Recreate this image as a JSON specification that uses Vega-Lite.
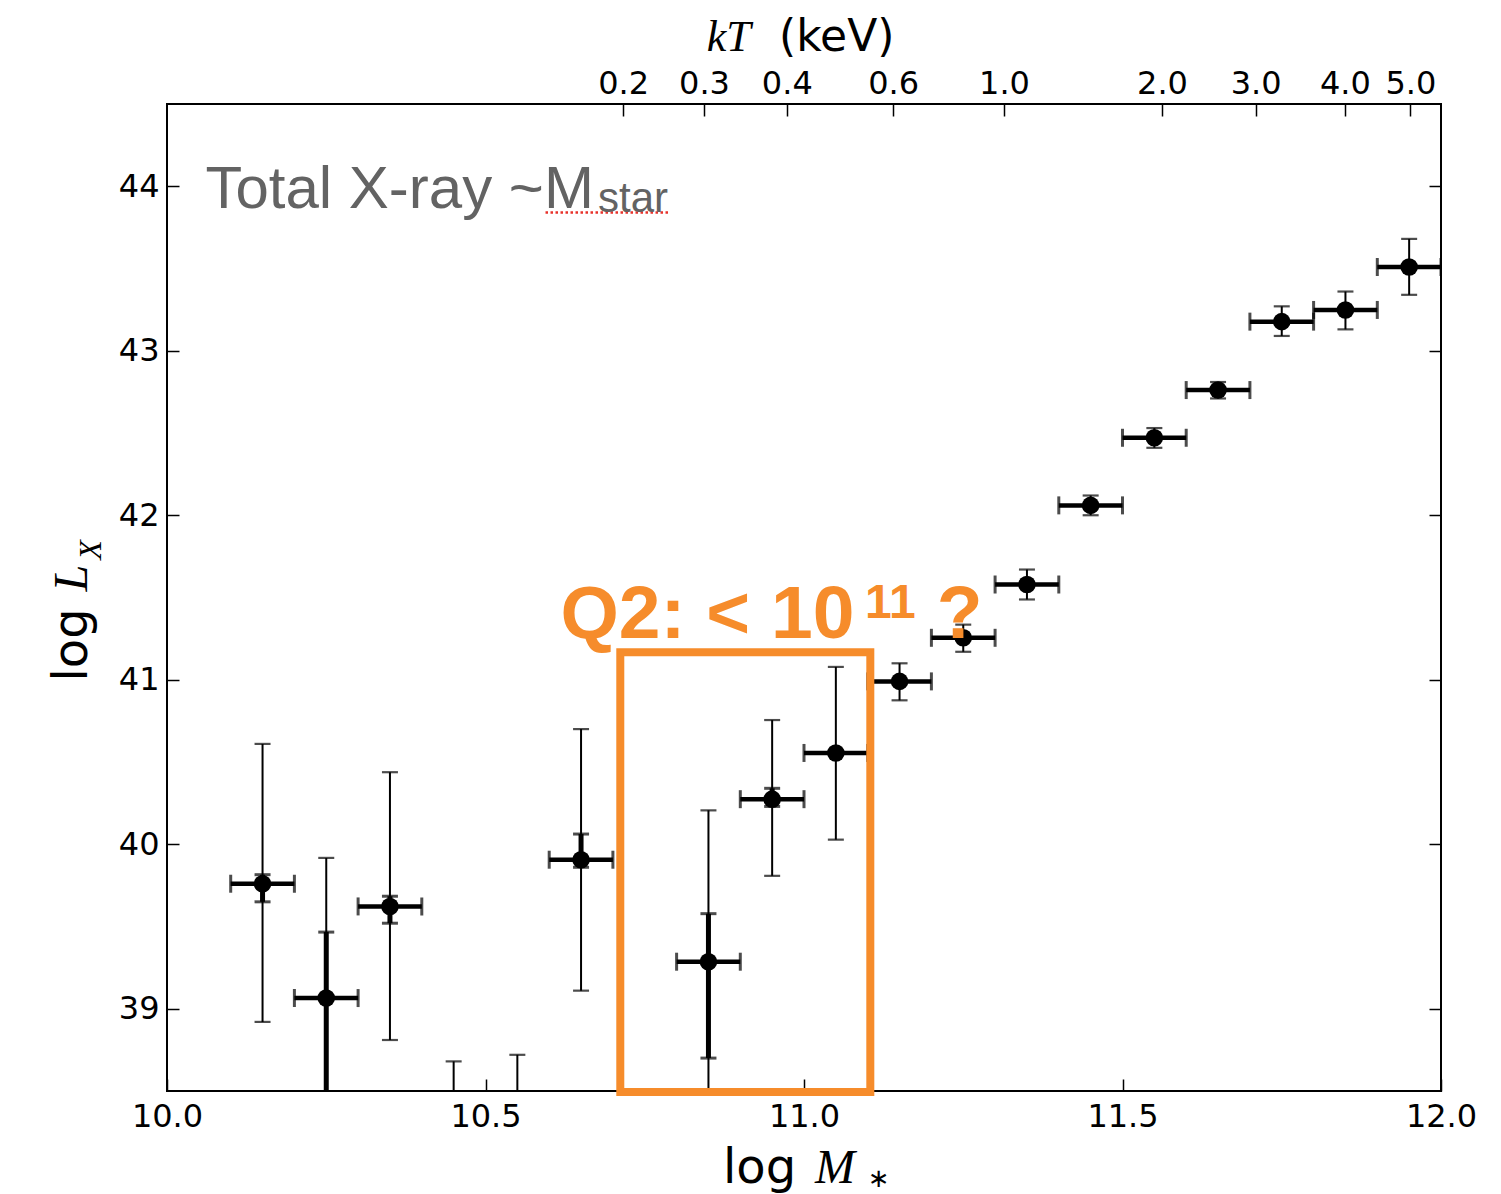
{
  "$schema": "https://vega.github.io/schema/vega-lite/v6.json",
  "autosize": "none",
  "width": 1274,
  "height": 987,
  "padding": {"left": 167, "top": 104, "right": 60, "bottom": 103},
  "background": "white",
  "config": {
    "view": {"stroke": "black", "strokeWidth": 2},
    "axis": {
      "grid": false,
      "domain": false,
      "labelFont": "DejaVu Sans",
      "labelFontSize": 32,
      "labelColor": "black",
      "tickColor": "black",
      "tickWidth": 1.5,
      "tickSize": -12,
      "labelFlush": false,
      "labelOverlap": false,
      "title": null
    }
  },
  "datasets": {
    "pts": [
      {"m": 10.15, "lx": 39.76, "lo": 38.92, "hi": 40.61, "xlo": 10.10, "xhi": 10.20},
      {"m": 10.25, "lx": 39.065, "lo": 37.5, "hi": 39.917, "xlo": 10.20, "xhi": 10.30},
      {"m": 10.35, "lx": 39.622, "lo": 38.81, "hi": 40.438, "xlo": 10.30, "xhi": 10.40},
      {"m": 10.45, "lx": 38.0, "lo": 37.3, "hi": 38.68, "xlo": 10.40, "xhi": 10.50},
      {"m": 10.55, "lx": 38.1, "lo": 37.4, "hi": 38.72, "xlo": 10.50, "xhi": 10.60},
      {"m": 10.65, "lx": 39.906, "lo": 39.11, "hi": 40.70, "xlo": 10.60, "xhi": 10.70},
      {"m": 10.85, "lx": 39.286, "lo": 37.8, "hi": 40.206, "xlo": 10.80, "xhi": 10.90},
      {"m": 10.95, "lx": 40.274, "lo": 39.808, "hi": 40.755, "xlo": 10.90, "xhi": 11.00},
      {"m": 11.05, "lx": 40.555, "lo": 40.028, "hi": 41.078, "xlo": 11.00, "xhi": 11.10},
      {"m": 11.15, "lx": 40.99, "lo": 40.875, "hi": 41.10, "xlo": 11.10, "xhi": 11.20},
      {"m": 11.25, "lx": 41.255, "lo": 41.17, "hi": 41.335, "xlo": 11.20, "xhi": 11.30},
      {"m": 11.35, "lx": 41.579, "lo": 41.488, "hi": 41.67, "xlo": 11.30, "xhi": 11.40},
      {"m": 11.45, "lx": 42.06, "lo": 42.0, "hi": 42.12, "xlo": 11.40, "xhi": 11.50},
      {"m": 11.55, "lx": 42.471, "lo": 42.41, "hi": 42.53, "xlo": 11.50, "xhi": 11.60},
      {"m": 11.65, "lx": 42.761, "lo": 42.71, "hi": 42.81, "xlo": 11.60, "xhi": 11.70},
      {"m": 11.75, "lx": 43.177, "lo": 43.09, "hi": 43.27, "xlo": 11.70, "xhi": 11.80},
      {"m": 11.85, "lx": 43.248, "lo": 43.13, "hi": 43.36, "xlo": 11.80, "xhi": 11.90},
      {"m": 11.95, "lx": 43.509, "lo": 43.34, "hi": 43.68, "xlo": 11.90, "xhi": 12.00}
    ],
    "thick": [
      {"m": 10.15, "lo2": 39.65, "hi2": 39.815},
      {"m": 10.25, "lo2": 37.5, "hi2": 39.466},
      {"m": 10.35, "lo2": 39.52, "hi2": 39.684},
      {"m": 10.65, "lo2": 39.86, "hi2": 40.062},
      {"m": 10.85, "lo2": 38.70, "hi2": 39.578},
      {"m": 10.95, "lo2": 40.23, "hi2": 40.34}
    ]
  },
  "resolve": {"axis": {"x": "independent", "y": "independent"}},
  "layer": [
    {
      "data": {"name": "pts"},
      "mark": {"type": "rule", "color": "black", "strokeWidth": 4.5, "clip": true},
      "encoding": {
        "x": {"field": "xlo", "type": "quantitative", "scale": {"domain": [10, 12]},
              "axis": {"orient": "bottom", "values": [10, 10.5, 11, 11.5, 12], "format": ".1f", "labelPadding": 22}},
        "x2": {"field": "xhi"},
        "y": {"field": "lx", "type": "quantitative", "scale": {"domain": [38.5, 44.5]},
              "axis": {"orient": "left", "values": [39, 40, 41, 42, 43, 44], "format": "d", "labelPadding": 20}}
      }
    },
    {
      "data": {"name": "pts"},
      "mark": {"type": "point", "opacity": 0, "clip": true},
      "encoding": {
        "x": {"field": "m", "type": "quantitative", "scale": {"domain": [10, 12]},
              "axis": {"orient": "top", "values": [10.716, 10.843, 10.973, 11.14, 11.314, 11.562, 11.709, 11.849, 11.952],
                       "labelPadding": 16,
                       "labelExpr": "datum.value < 10.78 ? '0.2' : datum.value < 10.9 ? '0.3' : datum.value < 11.05 ? '0.4' : datum.value < 11.2 ? '0.6' : datum.value < 11.4 ? '1.0' : datum.value < 11.6 ? '2.0' : datum.value < 11.78 ? '3.0' : datum.value < 11.9 ? '4.0' : '5.0'"}},
        "y": {"field": "lx", "type": "quantitative", "scale": {"domain": [38.5, 44.5]},
              "axis": {"orient": "right", "values": [39, 40, 41, 42, 43, 44], "labels": false}}
      }
    },
    {
      "data": {"name": "pts"},
      "mark": {"type": "rule", "color": "black", "strokeWidth": 2, "clip": true},
      "encoding": {
        "x": {"field": "m", "type": "quantitative", "scale": {"domain": [10, 12]}, "axis": null},
        "y": {"field": "lo", "type": "quantitative", "scale": {"domain": [38.5, 44.5]}, "axis": null},
        "y2": {"field": "hi"}
      }
    },
    {
      "data": {"name": "pts"},
      "mark": {"type": "tick", "orient": "horizontal", "color": "black", "size": 16, "thickness": 2.2, "clip": true},
      "encoding": {
        "x": {"field": "m", "type": "quantitative", "scale": {"domain": [10, 12]}, "axis": null},
        "y": {"field": "hi", "type": "quantitative", "scale": {"domain": [38.5, 44.5]}, "axis": null}
      }
    },
    {
      "data": {"name": "pts"},
      "mark": {"type": "tick", "orient": "horizontal", "color": "black", "size": 16, "thickness": 2.2, "clip": true},
      "encoding": {
        "x": {"field": "m", "type": "quantitative", "scale": {"domain": [10, 12]}, "axis": null},
        "y": {"field": "lo", "type": "quantitative", "scale": {"domain": [38.5, 44.5]}, "axis": null}
      }
    },
    {
      "data": {"name": "thick"},
      "mark": {"type": "rule", "color": "black", "strokeWidth": 5, "clip": true},
      "encoding": {
        "x": {"field": "m", "type": "quantitative", "scale": {"domain": [10, 12]}, "axis": null},
        "y": {"field": "lo2", "type": "quantitative", "scale": {"domain": [38.5, 44.5]}, "axis": null},
        "y2": {"field": "hi2"}
      }
    },
    {
      "data": {"name": "thick"},
      "mark": {"type": "tick", "orient": "horizontal", "color": "black", "size": 16, "thickness": 3, "clip": true},
      "encoding": {
        "x": {"field": "m", "type": "quantitative", "scale": {"domain": [10, 12]}, "axis": null},
        "y": {"field": "hi2", "type": "quantitative", "scale": {"domain": [38.5, 44.5]}, "axis": null}
      }
    },
    {
      "data": {"name": "thick"},
      "mark": {"type": "tick", "orient": "horizontal", "color": "black", "size": 16, "thickness": 3, "clip": true},
      "encoding": {
        "x": {"field": "m", "type": "quantitative", "scale": {"domain": [10, 12]}, "axis": null},
        "y": {"field": "lo2", "type": "quantitative", "scale": {"domain": [38.5, 44.5]}, "axis": null}
      }
    },
    {
      "data": {"name": "pts"},
      "mark": {"type": "tick", "orient": "vertical", "color": "black", "size": 18, "thickness": 3, "clip": true},
      "encoding": {
        "x": {"field": "xlo", "type": "quantitative", "scale": {"domain": [10, 12]}, "axis": null},
        "y": {"field": "lx", "type": "quantitative", "scale": {"domain": [38.5, 44.5]}, "axis": null}
      }
    },
    {
      "data": {"name": "pts"},
      "mark": {"type": "tick", "orient": "vertical", "color": "black", "size": 18, "thickness": 3, "clip": true},
      "encoding": {
        "x": {"field": "xhi", "type": "quantitative", "scale": {"domain": [10, 12]}, "axis": null},
        "y": {"field": "lx", "type": "quantitative", "scale": {"domain": [38.5, 44.5]}, "axis": null}
      }
    },
    {
      "data": {"name": "pts"},
      "mark": {"type": "point", "shape": "circle", "filled": true, "color": "black", "opacity": 1, "size": 310, "clip": true},
      "encoding": {
        "x": {"field": "m", "type": "quantitative", "scale": {"domain": [10, 12]}, "axis": null},
        "y": {"field": "lx", "type": "quantitative", "scale": {"domain": [38.5, 44.5]}, "axis": null}
      }
    },
    {
      "data": {"values": [{"x1": 10.7116, "x2": 11.1041, "y1": 41.167, "y2": 38.494}]},
      "mark": {"type": "rect", "fill": null, "fillOpacity": 0, "stroke": "#F68C2B", "strokeWidth": 8},
      "encoding": {
        "x": {"field": "x1", "type": "quantitative", "scale": {"domain": [10, 12]}, "axis": null},
        "x2": {"field": "x2"},
        "y": {"field": "y1", "type": "quantitative", "scale": {"domain": [38.5, 44.5]}, "axis": null},
        "y2": {"field": "y2"}
      }
    },
    {
      "data": {"values": [{"x1": 10.5942, "x2": 10.787, "y": 43.84}]},
      "mark": {"type": "rule", "color": "#e8322b", "strokeWidth": 2.5, "strokeDash": [2.5, 2.5]},
      "encoding": {
        "x": {"field": "x1", "type": "quantitative", "scale": {"domain": [10, 12]}, "axis": null},
        "x2": {"field": "x2"},
        "y": {"field": "y", "type": "quantitative", "scale": {"domain": [38.5, 44.5]}, "axis": null}
      }
    },
    {
      "data": {"values": [
        {"tx": 10.0603, "ty": 43.870, "label": "Total X-ray ~M", "size": 60},
        {"tx": 10.6766, "ty": 43.844, "label": "star", "size": 42}
      ]},
      "mark": {"type": "text", "font": "Liberation Sans", "color": "#636363", "align": "left", "baseline": "alphabetic"},
      "encoding": {
        "x": {"field": "tx", "type": "quantitative", "scale": {"domain": [10, 12]}, "axis": null},
        "y": {"field": "ty", "type": "quantitative", "scale": {"domain": [38.5, 44.5]}, "axis": null},
        "text": {"field": "label"},
        "size": {"field": "size", "type": "quantitative", "scale": null, "legend": null}
      }
    },
    {
      "data": {"values": [
        {"tx": 10.6177, "ty": 41.2549, "label": "Q2: < 10", "size": 75},
        {"tx": 11.0958, "ty": 41.3765, "label": "11", "size": 48},
        {"tx": 11.2083, "ty": 41.2549, "label": "?", "size": 75}
      ]},
      "mark": {"type": "text", "font": "Liberation Sans", "fontWeight": "bold", "color": "#F68C2B", "align": "left", "baseline": "alphabetic"},
      "encoding": {
        "x": {"field": "tx", "type": "quantitative", "scale": {"domain": [10, 12]}, "axis": null},
        "y": {"field": "ty", "type": "quantitative", "scale": {"domain": [38.5, 44.5]}, "axis": null},
        "text": {"field": "label"},
        "size": {"field": "size", "type": "quantitative", "scale": null, "legend": null}
      }
    },
    {
      "data": {"values": [
        {"tx": 10.8728, "ty": 37.943, "label": "log", "size": 48},
        {"tx": 10.9608, "ty": 44.823, "label": "(keV)", "size": 44}
      ]},
      "mark": {"type": "text", "font": "DejaVu Sans", "color": "black", "align": "left", "baseline": "alphabetic"},
      "encoding": {
        "x": {"field": "tx", "type": "quantitative", "scale": {"domain": [10, 12]}, "axis": null},
        "y": {"field": "ty", "type": "quantitative", "scale": {"domain": [38.5, 44.5]}, "axis": null},
        "text": {"field": "label"},
        "size": {"field": "size", "type": "quantitative", "scale": null, "legend": null}
      }
    },
    {
      "data": {"values": [{"tx": 11.1, "ty": 37.884, "label": "∗"}]},
      "mark": {"type": "text", "font": "DejaVu Sans", "fontSize": 26, "color": "black", "align": "left", "baseline": "bottom"},
      "encoding": {
        "x": {"field": "tx", "type": "quantitative", "scale": {"domain": [10, 12]}, "axis": null},
        "y": {"field": "ty", "type": "quantitative", "scale": {"domain": [38.5, 44.5]}, "axis": null},
        "text": {"field": "label"}
      }
    },
    {
      "data": {"values": [
        {"tx": 11.0173, "ty": 37.943, "label": "M", "size": 48},
        {"tx": 10.8473, "ty": 44.823, "label": "kT", "size": 44}
      ]},
      "mark": {"type": "text", "font": "Liberation Serif", "fontStyle": "italic", "color": "black", "align": "left", "baseline": "alphabetic"},
      "encoding": {
        "x": {"field": "tx", "type": "quantitative", "scale": {"domain": [10, 12]}, "axis": null},
        "y": {"field": "ty", "type": "quantitative", "scale": {"domain": [38.5, 44.5]}, "axis": null},
        "text": {"field": "label"},
        "size": {"field": "size", "type": "quantitative", "scale": null, "legend": null}
      }
    },
    {
      "data": {"values": [{"tx": 9.8744, "ty": 40.989, "label": "log"}]},
      "mark": {"type": "text", "font": "DejaVu Sans", "fontSize": 48, "angle": 270, "color": "black", "align": "left", "baseline": "alphabetic"},
      "encoding": {
        "x": {"field": "tx", "type": "quantitative", "scale": {"domain": [10, 12]}, "axis": null},
        "y": {"field": "ty", "type": "quantitative", "scale": {"domain": [38.5, 44.5]}, "axis": null},
        "text": {"field": "label"}
      }
    },
    {
      "data": {"values": [
        {"tx": 9.8744, "ty": 41.536, "label": "L", "size": 48},
        {"tx": 9.8963, "ty": 41.73, "label": "X", "size": 32}
      ]},
      "mark": {"type": "text", "font": "Liberation Serif", "fontStyle": "italic", "angle": 270, "color": "black", "align": "left", "baseline": "alphabetic"},
      "encoding": {
        "x": {"field": "tx", "type": "quantitative", "scale": {"domain": [10, 12]}, "axis": null},
        "y": {"field": "ty", "type": "quantitative", "scale": {"domain": [38.5, 44.5]}, "axis": null},
        "text": {"field": "label"},
        "size": {"field": "size", "type": "quantitative", "scale": null, "legend": null}
      }
    }
  ]
}
